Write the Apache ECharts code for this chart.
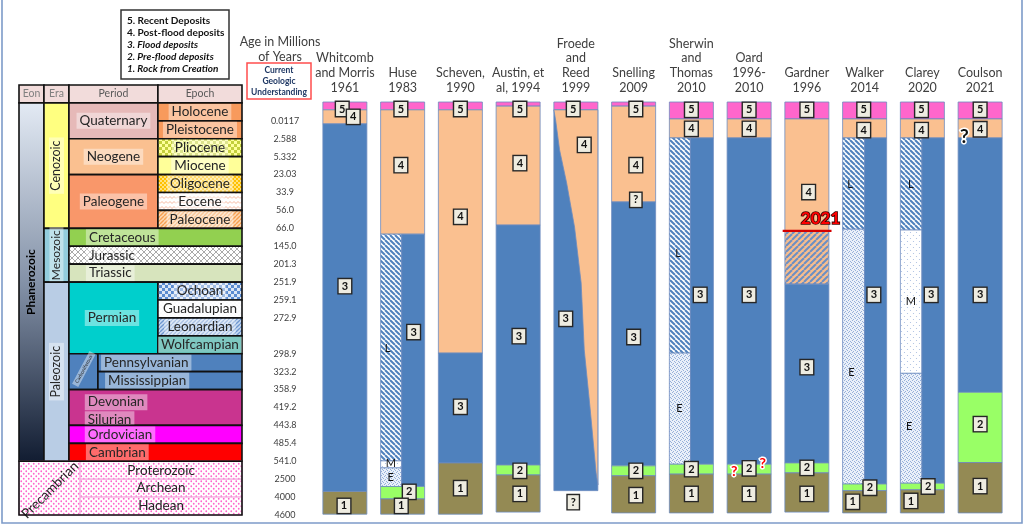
<!DOCTYPE html>
<html>
<head>
<meta charset="utf-8">
<title>Flood models and the geologic column</title>
<script src="https://cdn.jsdelivr.net/npm/echarts@6/dist/echarts.min.js"></script>
<style>
html,body{margin:0;padding:0;background:#fff;}
#chart{width:1024px;height:527px;}
</style>
</head>
<body>
<div id="chart"></div>
<script>
// ---- values ----
var studies = ['Whitcomb\nand Morris\n1961', 'Huse\n1983', 'Scheven,\n1990', 'Austin, et\nal, 1994',
	'Froede\nand\nReed\n1999', 'Snelling\n2009', 'Sherwin\nand\nThomas\n2010', 'Oard\n1996-\n2010',
	'Gardner\n1996', 'Walker\n2014', 'Clarey\n2020', 'Coulson\n2021'];

// ages written at each row boundary of the time table (row 0 = top of header)
var ageTicks = ['', '', '0.0117', '2.588', '5.332', '23.03', '33.9', '56.0', '66.0', '145.0', '201.3',
	'251.9', '259.1', '272.9', '', '298.9', '323.2', '358.9', '419.2', '443.8', '485.4', '541.0',
	'2500', '4000', '4600'];

// time table: name, from / to across the table (percent of its width), from / to row
var tableCells = [
	['Eon', 0, 11.2, 0, 1], ['Era', 11.2, 22.4, 0, 1], ['Period', 22.4, 62.3, 0, 1], ['Epoch', 62.3, 100, 0, 1],
	['Phanerozoic', 0, 11.2, 1, 21],
	['Cenozoic', 11.2, 22.4, 1, 8], ['Mesozoic', 11.2, 22.4, 8, 11], ['Paleozoic', 11.2, 22.4, 11, 21],
	['Quaternary', 22.4, 62.3, 1, 3], ['Neogene', 22.4, 62.3, 3, 5], ['Paleogene', 22.4, 62.3, 5, 8],
	['Holocene', 62.3, 100, 1, 2], ['Pleistocene', 62.3, 100, 2, 3], ['Pliocene', 62.3, 100, 3, 4],
	['Miocene', 62.3, 100, 4, 5], ['Oligocene', 62.3, 100, 5, 6], ['Eocene', 62.3, 100, 6, 7],
	['Paleocene', 62.3, 100, 7, 8],
	['Cretaceous', 22.4, 100, 8, 9], ['Jurassic', 22.4, 100, 9, 10], ['Triassic', 22.4, 100, 10, 11],
	['Permian', 22.4, 62.3, 11, 15],
	['Ochoan', 62.3, 100, 11, 12], ['Guadalupian', 62.3, 100, 12, 13], ['Leonardian', 62.3, 100, 13, 14],
	['Wolfcampian', 62.3, 100, 14, 15],
	['Carboniferous', 22.4, 35.4, 15, 17], ['Pennsylvanian', 35.4, 100, 15, 16], ['Mississippian', 35.4, 100, 16, 17],
	['Devonian', 22.4, 100, 17, 19], ['Ordovician', 22.4, 100, 19, 20], ['Cambrian', 22.4, 100, 20, 21],
	['Precambrian', 0, 27.4, 21, 24], ['Proterozoic', 27.4, 100, 21, 22], ['Archean', 27.4, 100, 22, 23],
	['Hadean', 27.4, 100, 23, 24], ['PrecambrianFrame', 0, 100, 21, 24]
];

// study columns: study, layer, top, bottom (percent of column height), left / right share of the column
var layers = [
	[0, 'pink', 0, 1.9, 0, 1], [0, 'peach', 1.9, 5.3, 0, 1], [0, 'blue', 5.3, 94.3, 0, 1], [0, 'brown', 94.3, 99.8, 0, 1],

	[1, 'pink', 0, 1.9, 0, 1], [1, 'peach', 1.9, 32.0, 0, 1], [1, 'hatch', 32.0, 86.9, 0, 0.48],
	[1, 'dotM', 86.9, 88.6, 0, 0.48], [1, 'dotE', 88.6, 93.1, 0, 0.48], [1, 'blue', 32.0, 93.1, 0.48, 1],
	[1, 'green', 93.1, 96.1, 0, 1], [1, 'brown', 96.1, 99.8, 0, 1],

	[2, 'pink', 0, 1.9, 0, 1], [2, 'peach', 1.9, 60.8, 0, 1], [2, 'blue', 60.8, 87.4, 0, 1], [2, 'brown', 87.4, 99.8, 0, 1],

	[3, 'pink', 0, 1.0, 0, 1], [3, 'peach', 1.0, 29.8, 0, 1], [3, 'blue', 29.8, 87.9, 0, 1],
	[3, 'green', 87.9, 90.3, 0, 1], [3, 'brown', 90.3, 99.3, 0, 1],

	[4, 'pink', 0, 1.9, 0, 1], [4, 'blue', 1.9, 94.1, 0, 1],

	[5, 'pink', 0, 1.0, 0, 1], [5, 'peach', 1.0, 24.2, 0, 1], [5, 'blue', 24.2, 88.1, 0, 1],
	[5, 'green', 88.1, 90.5, 0, 1], [5, 'brown', 90.5, 99.5, 0, 1],

	[6, 'pink', 0, 4.1, 0, 1], [6, 'peach', 4.1, 8.7, 0, 1], [6, 'hatch', 8.7, 60.8, 0, 0.48],
	[6, 'dotE', 60.8, 87.7, 0, 0.48], [6, 'blue', 8.7, 87.7, 0.48, 1], [6, 'green', 87.7, 90.1, 0, 1],
	[6, 'brown', 90.1, 99.5, 0, 1],

	[7, 'pink', 0, 4.1, 0, 1], [7, 'peach', 4.1, 8.7, 0, 1], [7, 'blue', 8.7, 87.7, 0, 1],
	[7, 'green', 87.7, 90.1, 0, 1], [7, 'brown', 90.1, 99.5, 0, 1],

	[8, 'pink', 0, 4.1, 0, 1], [8, 'peach', 4.1, 31.2, 0, 1], [8, 'hatchPeach', 31.2, 44.1, 0, 1],
	[8, 'blue', 44.1, 87.4, 0, 1], [8, 'green', 87.4, 89.8, 0, 1], [8, 'brown', 89.8, 99.3, 0, 1],

	[9, 'pink', 0, 4.1, 0, 1], [9, 'peach', 4.1, 8.7, 0, 1], [9, 'hatch', 8.7, 30.8, 0, 0.5],
	[9, 'dotE', 30.8, 92.5, 0, 0.5], [9, 'blue', 8.7, 92.5, 0.5, 1], [9, 'green', 92.5, 94.1, 0, 1],
	[9, 'brown', 94.1, 99.5, 0, 1],

	[10, 'pink', 0, 4.1, 0, 1], [10, 'peach', 4.1, 8.7, 0, 1], [10, 'hatch', 8.7, 31.0, 0, 0.49],
	[10, 'dotM', 31.0, 65.7, 0, 0.49], [10, 'dotE', 65.7, 92.3, 0, 0.49], [10, 'blue', 8.7, 92.3, 0.49, 1],
	[10, 'green', 92.3, 93.9, 0, 1], [10, 'brown', 93.9, 99.5, 0, 1],

	[11, 'pink', 0, 4.1, 0, 1], [11, 'peach', 4.1, 8.7, 0, 1], [11, 'blue', 8.7, 70.3, 0, 1],
	[11, 'green', 70.3, 87.3, 0, 1], [11, 'brown', 87.3, 99.5, 0, 1]
];

// Froede & Reed: edge between flood rock (left) and post-flood wedge (right), share across / depth
var froedeEdge = [[0, 1.9], [0.04, 4.4], [0.13, 11.6], [0.29, 19.6], [0.47, 30.3], [0.62, 43.8],
	[0.69, 60.0], [0.82, 73.8], [0.96, 89.8], [1, 92.7]];

// Gardner 1996: red line marking 2021 (study, depth, from share, to share)
var gardnerRule = [8, 31.2, -0.05, 1.06];

// markers: study, text, depth, share across, kind
var marks = [
	[0, '5', 1.7, 0.44, 'box'], [0, '4', 3.6, 0.69, 'box'], [0, '3', 44.6, 0.5, 'box'], [0, '1', 97.8, 0.48, 'box'],
	[1, '5', 1.7, 0.46, 'box'], [1, '4', 15.3, 0.46, 'box'], [1, 'L', 59.6, 0.16, 'letter'], [1, '3', 55.7, 0.75, 'box'],
	[1, 'M', 87.6, 0.23, 'letter'], [1, 'E', 91.0, 0.23, 'letter'], [1, '2', 94.4, 0.65, 'box'], [1, '1', 97.8, 0.47, 'box'],
	[2, '5', 1.7, 0.5, 'box'], [2, '4', 27.8, 0.5, 'box'], [2, '3', 73.8, 0.5, 'box'], [2, '1', 93.5, 0.5, 'box'],
	[3, '5', 1.7, 0.54, 'box'], [3, '4', 14.8, 0.54, 'box'], [3, '3', 56.7, 0.52, 'box'], [3, '2', 89.3, 0.54, 'box'],
	[3, '1', 94.9, 0.54, 'box'],
	[4, '5', 1.7, 0.44, 'box'], [4, '4', 10.4, 0.69, 'box'], [4, '3', 52.5, 0.27, 'box'], [4, '?', 96.9, 0.44, 'box'],
	[5, '5', 1.7, 0.55, 'box'], [5, '4', 15.3, 0.55, 'box'], [5, '?', 23.7, 0.55, 'box'], [5, '3', 56.9, 0.5, 'box'],
	[5, '2', 89.3, 0.55, 'box'], [5, '1', 95.2, 0.55, 'box'],
	[6, '5', 1.9, 0.5, 'box'], [6, '4', 6.5, 0.5, 'box'], [6, 'L', 36.6, 0.2, 'letter'], [6, '3', 46.7, 0.7, 'box'],
	[6, 'E', 74.1, 0.23, 'letter'], [6, '2', 88.9, 0.5, 'box'], [6, '1', 94.9, 0.5, 'box'],
	[7, '5', 1.9, 0.5, 'box'], [7, '4', 6.5, 0.5, 'box'], [7, '3', 46.7, 0.5, 'box'], [7, '2', 88.7, 0.5, 'box'],
	[7, '1', 94.9, 0.5, 'box'], [7, '?', 89.5, 0.16, 'redq'], [7, '?', 87.5, 0.81, 'redq'],
	[8, '5', 1.9, 0.5, 'box'], [8, '4', 21.8, 0.54, 'box'], [8, '3', 64.2, 0.5, 'box'], [8, '2', 88.6, 0.5, 'box'],
	[8, '1', 94.9, 0.5, 'box'], [8, '2021', 28.3, 0.81, 'year'],
	[9, '5', 1.9, 0.48, 'box'], [9, '4', 6.8, 0.48, 'box'], [9, 'L', 19.9, 0.17, 'letter'], [9, '3', 46.7, 0.71, 'box'],
	[9, 'E', 65.6, 0.2, 'letter'], [9, '2', 93.4, 0.62, 'box'], [9, '1', 96.8, 0.23, 'box'],
	[10, '5', 1.9, 0.48, 'box'], [10, '4', 6.8, 0.48, 'box'], [10, 'L', 19.9, 0.24, 'letter'], [10, 'M', 48.2, 0.24, 'letter'],
	[10, '3', 46.7, 0.7, 'box'], [10, 'E', 78.6, 0.2, 'letter'], [10, '2', 93.1, 0.63, 'box'], [10, '1', 96.6, 0.24, 'box'],
	[11, '5', 1.9, 0.5, 'box'], [11, '4', 6.6, 0.5, 'box'], [11, '?', 8.4, 0.14, 'blackq'], [11, '3', 46.7, 0.5, 'box'],
	[11, '2', 78.0, 0.5, 'box'], [11, '1', 93.0, 0.5, 'box']
];

// ---- fills ----
function tile(w, h, paint) {
	var c = document.createElement('canvas');
	c.width = w;
	c.height = h;
	paint(c.getContext('2d'), w, h);
	return {image: c, repeat: 'repeat'};
}
function stripes(bg, fg, size, lw, rising) {
	return tile(size, size, function (g) {
		g.fillStyle = bg;
		g.fillRect(0, 0, size, size);
		g.strokeStyle = fg;
		g.lineWidth = lw;
		for (var k = -1; k <= 1; k++) {
			g.beginPath();
			if (rising) { g.moveTo(k * size, size); g.lineTo(k * size + size, 0); }
			else { g.moveTo(k * size, 0); g.lineTo(k * size + size, size); }
			g.stroke();
		}
	});
}
function checker(a, b, s) {
	return tile(s * 2, s * 2, function (g) {
		g.fillStyle = a; g.fillRect(0, 0, s * 2, s * 2);
		g.fillStyle = b; g.fillRect(0, 0, s, s); g.fillRect(s, s, s, s);
	});
}
function dots(bg, fg, s, r) {
	return tile(s, s, function (g) {
		g.fillStyle = bg; g.fillRect(0, 0, s, s);
		g.fillStyle = fg;
		g.beginPath(); g.arc(s * 0.25, s * 0.25, r, 0, Math.PI * 2); g.fill();
		g.beginPath(); g.arc(s * 0.75, s * 0.75, r, 0, Math.PI * 2); g.fill();
	});
}

var fills = {
	phan: {type: 'linear', x: 0, y: 0, x2: 0, y2: 1, colorStops: [
		{offset: 0, color: '#e3eaf4'}, {offset: 0.5, color: '#8492a8'}, {offset: 1, color: '#111c31'}]},
	pliocene: checker('#ffff99', '#c3cf3c', 3),
	oligocene: checker('#ffc000', '#ffe27f', 2),
	eocene: tile(8, 5, function (g) {
		g.fillStyle = '#fff'; g.fillRect(0, 0, 8, 5);
		g.strokeStyle = '#f6b9a0'; g.lineWidth = 1;
		g.beginPath(); g.moveTo(0, 3.5); g.lineTo(2, 1.5); g.lineTo(4, 3.5); g.lineTo(6, 1.5); g.lineTo(8, 3.5); g.stroke();
	}),
	paleocene: stripes('#fdd9b5', '#f7a050', 4, 1.4, true),
	jurassic: tile(6, 6, function (g) {
		g.fillStyle = '#fff'; g.fillRect(0, 0, 6, 6);
		g.strokeStyle = '#a9a9a9'; g.lineWidth = 1;
		g.beginPath(); g.moveTo(0, 0); g.lineTo(6, 6); g.moveTo(6, 0); g.lineTo(0, 6); g.stroke();
	}),
	ochoan: checker('#dbe6f5', '#5a8bd0', 3),
	guadalupian: dots('#ffffff', '#d5dcea', 4, 0.6),
	leonardian: stripes('#c9dbf2', '#6f97d0', 4, 1.3, true),
	precambrian: dots('#ffffff', '#ff66cc', 5, 0.9),
	hatch: stripes('#ffffff', '#4f81bd', 5, 2, false),
	hatchPeach: stripes('#f8bd8d', '#6b8fc4', 6, 2, true),
	dotE: tile(4, 4, function (g) {
		g.fillStyle = '#eaf0f9'; g.fillRect(0, 0, 4, 4);
		g.fillStyle = '#96b0da'; g.fillRect(0, 0, 1, 1); g.fillRect(2, 1, 1, 1); g.fillRect(1, 3, 1, 1); g.fillRect(3, 2, 1, 1);
	}),
	dotM: dots('#ffffff', '#a9bde0', 6, 0.6),
	pink: '#ff66cc', peach: '#fac090', blue: '#4f81bd', green: '#99ff66', brown: '#948a54'
};
function paint(key) {
	return fills[key] || key;
}

// look of every table cell (fill, label placement)
var cellLook = {
	Eon: {fill: '#f2dcdb', plain: true, size: 10.5, color: '#808080'},
	Era: {fill: '#f2dcdb', plain: true, size: 10.5, color: '#808080'},
	Period: {fill: '#f2dcdb', plain: true, size: 10.5, color: '#595959'},
	Epoch: {fill: '#f2dcdb', plain: true, size: 10.5, color: '#595959'},
	Phanerozoic: {fill: 'phan', plain: true, rot: 90, bold: true, size: 12, color: '#000'},
	Cenozoic: {fill: '#ffff80', rot: 90, size: 12.5},
	Mesozoic: {fill: '#93cddd', rot: 90, size: 12},
	Paleozoic: {fill: '#b9cde5', rot: 90, size: 12.5},
	Quaternary: {fill: '#e6b9b8'},
	Neogene: {fill: '#fac090'},
	Paleogene: {fill: '#f9976a'},
	Holocene: {fill: '#f89a5c'},
	Pleistocene: {fill: '#f89a5c'},
	Pliocene: {fill: 'pliocene'},
	Miocene: {fill: '#ffff99'},
	Oligocene: {fill: 'oligocene'},
	Eocene: {fill: 'eocene'},
	Paleocene: {fill: 'paleocene'},
	Cretaceous: {fill: '#92d050', lx: 30},
	Jurassic: {fill: 'jurassic', lx: 30},
	Triassic: {fill: '#d7e4bd', lx: 30},
	Permian: {fill: '#00cfcc', lx: 29.5},
	Ochoan: {fill: 'ochoan'},
	Guadalupian: {fill: 'guadalupian'},
	Leonardian: {fill: 'leonardian'},
	Wolfcampian: {fill: '#24a194'},
	Carboniferous: {fill: '#4f81bd', rot: 62, size: 5, at: [29.1, 15.85]},
	Pennsylvanian: {fill: '#4f81bd', lx: 36.8},
	Mississippian: {fill: '#4f81bd', lx: 38.6},
	Devonian: {fill: '#c9348f', lx: 29.5, ly: 17.7, more: [{text: 'Silurian', lx: 29.5, ly: 18.65}]},
	Ordovician: {fill: '#ff00ff', lx: 29.5},
	Cambrian: {fill: '#ff0000', lx: 30},
	Precambrian: {fill: 'precambrian', edge: '#f3a5dc', plain: true, rot: 45, at: [13.9, 22.6]},
	Proterozoic: {fill: 'precambrian', edge: '#f3a5dc', plain: true},
	Archean: {fill: 'precambrian', edge: '#f3a5dc', plain: true},
	Hadean: {fill: 'precambrian', edge: '#f3a5dc', plain: true},
	PrecambrianFrame: {fill: 'none', text: ''}
};

var colShare = 0.762;

function drawCell(params, api) {
	var c = tableCells[params.dataIndex];
	var look = cellLook[c[0]] || {};
	var a = api.coord([c[1], c[3]]);
	var b = api.coord([c[2], c[4]]);
	var kids = [{
		type: 'rect',
		shape: {x: a[0], y: a[1], width: b[0] - a[0], height: b[1] - a[1]},
		style: {fill: look.fill === 'none' ? null : paint(look.fill), stroke: look.edge || '#111', lineWidth: look.edge ? 1 : 1.6}
	}];
	var labs = look.text === '' ? [] : [{text: c[0], lx: look.lx, ly: look.ly, at: look.at}].concat(look.more || []);
	labs.forEach(function (l) {
		var x, y, align = 'center';
		if (l.at) {
			var p = api.coord(l.at);
			x = p[0]; y = p[1];
		} else {
			y = api.coord([0, l.ly != null ? l.ly : (c[3] + c[4]) / 2])[1];
			if (l.lx != null) { x = api.coord([l.lx, 0])[0]; align = 'left'; }
			else x = (a[0] + b[0]) / 2;
		}
		kids.push({
			type: 'text', x: x, y: y, rotation: (look.rot || 0) * Math.PI / 180,
			style: {
				text: l.text, align: align, verticalAlign: 'middle',
				font: (look.bold ? 'bold ' : '') + (look.size || 13.5) + 'px Lato',
				fill: look.color || '#262626',
				backgroundColor: look.plain ? null : 'rgba(255,255,255,0.42)',
				padding: look.plain ? 0 : [1, 3]
			}
		});
	});
	return {type: 'group', children: kids};
}

function columnBox(api, col) {
	var w = api.size([1, 0])[0] * colShare;
	return {left: api.coord([col, 0])[0] - w / 2, w: w};
}

function drawLayer(params, api) {
	var d = layers[params.dataIndex];
	var box = columnBox(api, d[0]);
	var y0 = api.coord([d[0], d[2]])[1];
	var y1 = api.coord([d[0], d[3]])[1];
	return {
		type: 'rect',
		shape: {x: box.left + d[4] * box.w, y: y0, width: (d[5] - d[4]) * box.w, height: y1 - y0},
		style: {fill: paint(d[1]), stroke: '#6d8cbf', lineWidth: 0.8}
	};
}

function drawWedge(params, api) {
	var box = columnBox(api, 4);
	var pts = froedeEdge.map(function (p) {
		return [box.left + p[0] * box.w, api.coord([4, p[1]])[1]];
	});
	pts.push([box.left + box.w, api.coord([4, froedeEdge[0][1]])[1]]);
	return {type: 'polygon', shape: {points: pts}, style: {fill: fills.peach, stroke: '#6d8cbf', lineWidth: 0.8}};
}

function drawRule(params, api) {
	var box = columnBox(api, gardnerRule[0]);
	var y = api.coord([gardnerRule[0], gardnerRule[1]])[1];
	return {type: 'line', shape: {x1: box.left + gardnerRule[2] * box.w, y1: y, x2: box.left + gardnerRule[3] * box.w, y2: y},
		style: {stroke: '#d40000', lineWidth: 2.2}};
}

var markLook = {
	box: {font: 'bold 11px Lato', fill: '#111', backgroundColor: '#eeece1', borderColor: '#262626', borderWidth: 1.4, padding: [2, 3, 1, 3]},
	letter: {font: '11px Lato', fill: '#111'},
	redq: {font: 'bold 14px Lato', fill: '#ff0000', stroke: '#ffffff', lineWidth: 3},
	blackq: {font: 'bold 19px Lato', fill: '#111', stroke: '#ffffff', lineWidth: 3},
	year: {font: 'bold 17px Lato', fill: '#ff0000', stroke: '#3a0000', lineWidth: 1.6}
};

function drawMark(params, api) {
	var m = marks[params.dataIndex];
	var box = columnBox(api, m[0]);
	var y = api.coord([m[0], m[2]])[1];
	var st = {text: m[1], align: 'center', verticalAlign: 'middle'};
	var look = markLook[m[4]];
	for (var k in look) st[k] = look[k];
	return {type: 'text', x: box.left + m[3] * box.w, y: y, style: st};
}

var myChart = echarts.init(document.getElementById('chart'));
var option = {
	animation: false,
	backgroundColor: '#ffffff',
	textStyle: {fontFamily: 'Lato'},
	grid: [
		{left: 19, top: 85, width: 223, height: 430},
		{left: 316, top: 102, right: 15, bottom: 12}
	],
	xAxis: [
		{gridIndex: 0, type: 'value', min: 0, max: 100, show: false},
		{
			gridIndex: 1, type: 'category', data: studies, position: 'top',
			axisLine: {show: false}, axisTick: {show: false}, splitLine: {show: false},
			axisLabel: {interval: 0, margin: 7, color: '#404040', fontSize: 12.5, lineHeight: 14.7, fontFamily: 'Lato'}
		}
	],
	yAxis: [
		{
			gridIndex: 0, type: 'value', min: 0, max: 24, interval: 1, inverse: true, position: 'right',
			axisLine: {show: false}, axisTick: {show: false}, splitLine: {show: false},
			axisLabel: {
				formatter: function (v) { return ageTicks[v] || ''; },
				align: 'center', margin: 43, fontSize: 9, color: '#404040', fontFamily: 'Lato'
			}
		},
		{gridIndex: 1, type: 'value', min: 0, max: 100, inverse: true, show: false}
	],
	graphic: [
		{type: 'rect', shape: {x: 2, y: -1, width: 1020, height: 524}, style: {fill: null, stroke: '#7d9bc9', lineWidth: 1.6}},
		{type: 'rect', shape: {x: 121, y: 10, width: 108, height: 69}, style: {fill: '#fff', stroke: '#333', lineWidth: 1.5}},
		{
			type: 'text', x: 127, y: 14.5,
			style: {
				text: '{b|5. Recent Deposits}\n{b|4. Post-flood deposits}\n{i|3. Flood deposits}\n{i|2. Pre-flood deposits}\n{i|1. Rock from Creation}',
				rich: {
					b: {fontWeight: 'bold', fontSize: 10, fontFamily: 'Lato', lineHeight: 12, fill: '#111'},
					i: {fontWeight: 'bold', fontStyle: 'italic', fontSize: 10, fontFamily: 'Lato', lineHeight: 12, fill: '#111'}
				}
			}
		},
		{
			type: 'text', x: 280, y: 35,
			style: {text: 'Age in Millions\nof Years', align: 'center', verticalAlign: 'top', font: '12.5px Lato', lineHeight: 14.5, fill: '#404040'}
		},
		{type: 'rect', shape: {x: 247, y: 63, width: 64, height: 36}, style: {fill: '#fff', stroke: '#ff4d4d', lineWidth: 1.5}},
		{
			type: 'text', x: 279, y: 64.5,
			style: {text: 'Current\nGeologic\nUnderstanding', align: 'center', verticalAlign: 'top', font: 'bold 8.5px Lato', lineHeight: 11, fill: '#1f3864'}
		}
	],
	series: [
		{
			type: 'custom', name: 'time table', xAxisIndex: 0, yAxisIndex: 0,
			renderItem: drawCell,
			data: tableCells.map(function (c) { return [c[1], c[3]]; })
		},
		{
			type: 'custom', name: 'layers', xAxisIndex: 1, yAxisIndex: 1,
			renderItem: drawLayer,
			data: layers.map(function (l) { return [l[0], l[2]]; })
		},
		{
			type: 'custom', name: 'post-flood wedge', xAxisIndex: 1, yAxisIndex: 1,
			renderItem: drawWedge,
			data: [[4, froedeEdge[0][1]]]
		},
		{
			type: 'custom', name: '2021 line', xAxisIndex: 1, yAxisIndex: 1,
			renderItem: drawRule,
			data: [[gardnerRule[0], gardnerRule[1]]]
		},
		{
			type: 'custom', name: 'markers', xAxisIndex: 1, yAxisIndex: 1,
			renderItem: drawMark,
			data: marks.map(function (m) { return [m[0], m[2]]; })
		}
	]
};
myChart.setOption(option);
window.onresize = function () {
	myChart.resize();
};
</script>
</body>
</html>
